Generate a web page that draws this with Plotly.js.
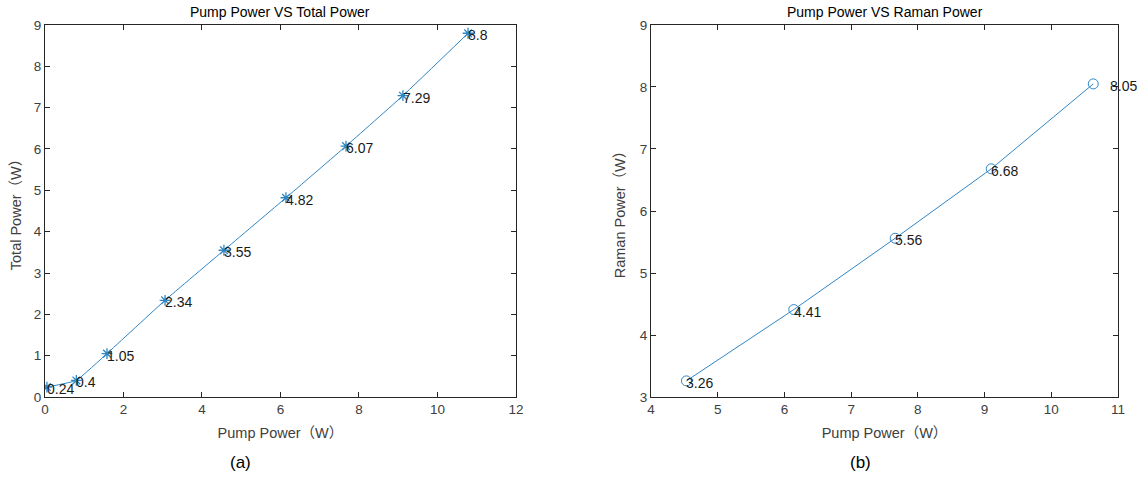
<!DOCTYPE html>
<html>
<head>
<meta charset="utf-8">
<script src="https://cdn.plot.ly/plotly-3.0.1.min.js"></script>
<style>html,body{margin:0;padding:0;background:#fff;}#chart{width:1141px;height:477px;}</style>
</head>
<body>
<div id="chart"></div>
<script>
// Panel (a): Pump Power vs Total Power
const pumpA = [0.05, 0.8, 1.58, 3.06, 4.56, 6.14, 7.67, 9.12, 10.78];
const totalA = [0.24, 0.4, 1.05, 2.34, 3.55, 4.82, 6.07, 7.29, 8.8];
// Panel (b): Pump Power vs Raman Power
const pumpB = [4.53, 6.14, 7.66, 9.1, 10.63];
const ramanB = [3.26, 4.41, 5.56, 6.68, 8.05];

const titles = ["Pump Power VS Total Power", "Pump Power VS Raman Power"];
const yTitles = ["Total Power（W）", "Raman Power（W）"];
const xTitle = "Pump Power（W）";
const panelLabels = ["(a)", "(b)"];

const lineColor = "#2f86c4";
const fontFam = "'Liberation Sans', Arial, 'Noto Sans CJK SC', sans-serif";
const tickColor = "#404040";

const traces = [
  {x: pumpA, y: totalA, type: "scatter", mode: "lines+markers", xaxis: "x", yaxis: "y",
   line: {color: lineColor, width: 1, shape: "spline", smoothing: 0.3},
   marker: {symbol: "asterisk-open", size: 9, color: lineColor, line: {color: "#1a66a8", width: 1.3}},
   hoverinfo: "x+y", showlegend: false},
  {x: pumpB, y: ramanB, type: "scatter", mode: "lines+markers", xaxis: "x2", yaxis: "y2",
   line: {color: lineColor, width: 1},
   marker: {symbol: "circle-open", size: 10, color: lineColor, line: {color: lineColor, width: 1}},
   hoverinfo: "x+y", showlegend: false}
];

const annotations = [];
pumpA.forEach((x, i) => annotations.push({x: x, y: totalA[i], xref: "x", yref: "y", text: String(totalA[i]),
  showarrow: false, xanchor: "left", yanchor: "middle", xshift: -2, yshift: -2,
  font: {family: fontFam, size: 14, color: "#1a1a1a"}}));
pumpB.forEach((x, i) => annotations.push({x: x, y: ramanB[i], xref: "x2", yref: "y2", text: String(ramanB[i]),
  showarrow: false, xanchor: "left", yanchor: "middle", xshift: i === pumpB.length - 1 ? 15 : -2, yshift: -2,
  font: {family: fontFam, size: 14, color: "#1a1a1a"}}));

const xDomains = [[0.0394, 0.4522], [0.5706, 0.9798]];
titles.forEach((t, i) => annotations.push({x: (xDomains[i][0] + xDomains[i][1]) / 2, y: 1 - 12 / 477, xref: "paper", yref: "paper",
  text: t, showarrow: false, xanchor: "center", yanchor: "middle", font: {family: fontFam, size: 14, color: "#000"}}));
panelLabels.forEach((t, i) => annotations.push({x: i === 0 ? 240 / 1141 : 860 / 1141, y: 1 - 462 / 477, xref: "paper", yref: "paper",
  text: t, showarrow: false, xanchor: "center", yanchor: "middle", font: {family: fontFam, size: 17, color: "#000"}}));

function axis(extra) {
  return Object.assign({
    showgrid: false, zeroline: false, showline: true, linecolor: "#262626", linewidth: 1, mirror: "ticks",
    ticks: "inside", ticklen: 5, tickcolor: "#262626", tickwidth: 1,
    tickfont: {family: fontFam, size: 13.5, color: tickColor}, fixedrange: true
  }, extra);
}

const layout = {
  width: 1141, height: 477,
  margin: {l: 0, r: 0, t: 0, b: 0},
  paper_bgcolor: "#fff", plot_bgcolor: "#fff",
  xaxis: axis({domain: xDomains[0], range: [0, 12], dtick: 2, anchor: "y",
    title: {text: xTitle, standoff: 11, font: {family: fontFam, size: 14.5, color: tickColor}}}),
  yaxis: axis({domain: [0.1677, 0.9476], range: [0, 9], dtick: 1, anchor: "x",
    title: {text: yTitles[0], standoff: 8, font: {family: fontFam, size: 14.5, color: tickColor}}}),
  xaxis2: axis({domain: xDomains[1], range: [4, 11], dtick: 1, anchor: "y2",
    title: {text: xTitle, standoff: 11, font: {family: fontFam, size: 14.5, color: tickColor}}}),
  yaxis2: axis({domain: [0.1677, 0.9476], range: [3, 9], dtick: 1, anchor: "x2",
    title: {text: yTitles[1], standoff: 10, font: {family: fontFam, size: 14.5, color: tickColor}}}),
  annotations: annotations
};

Plotly.newPlot("chart", traces, layout, {displayModeBar: false, staticPlot: true});
</script>
</body>
</html>
